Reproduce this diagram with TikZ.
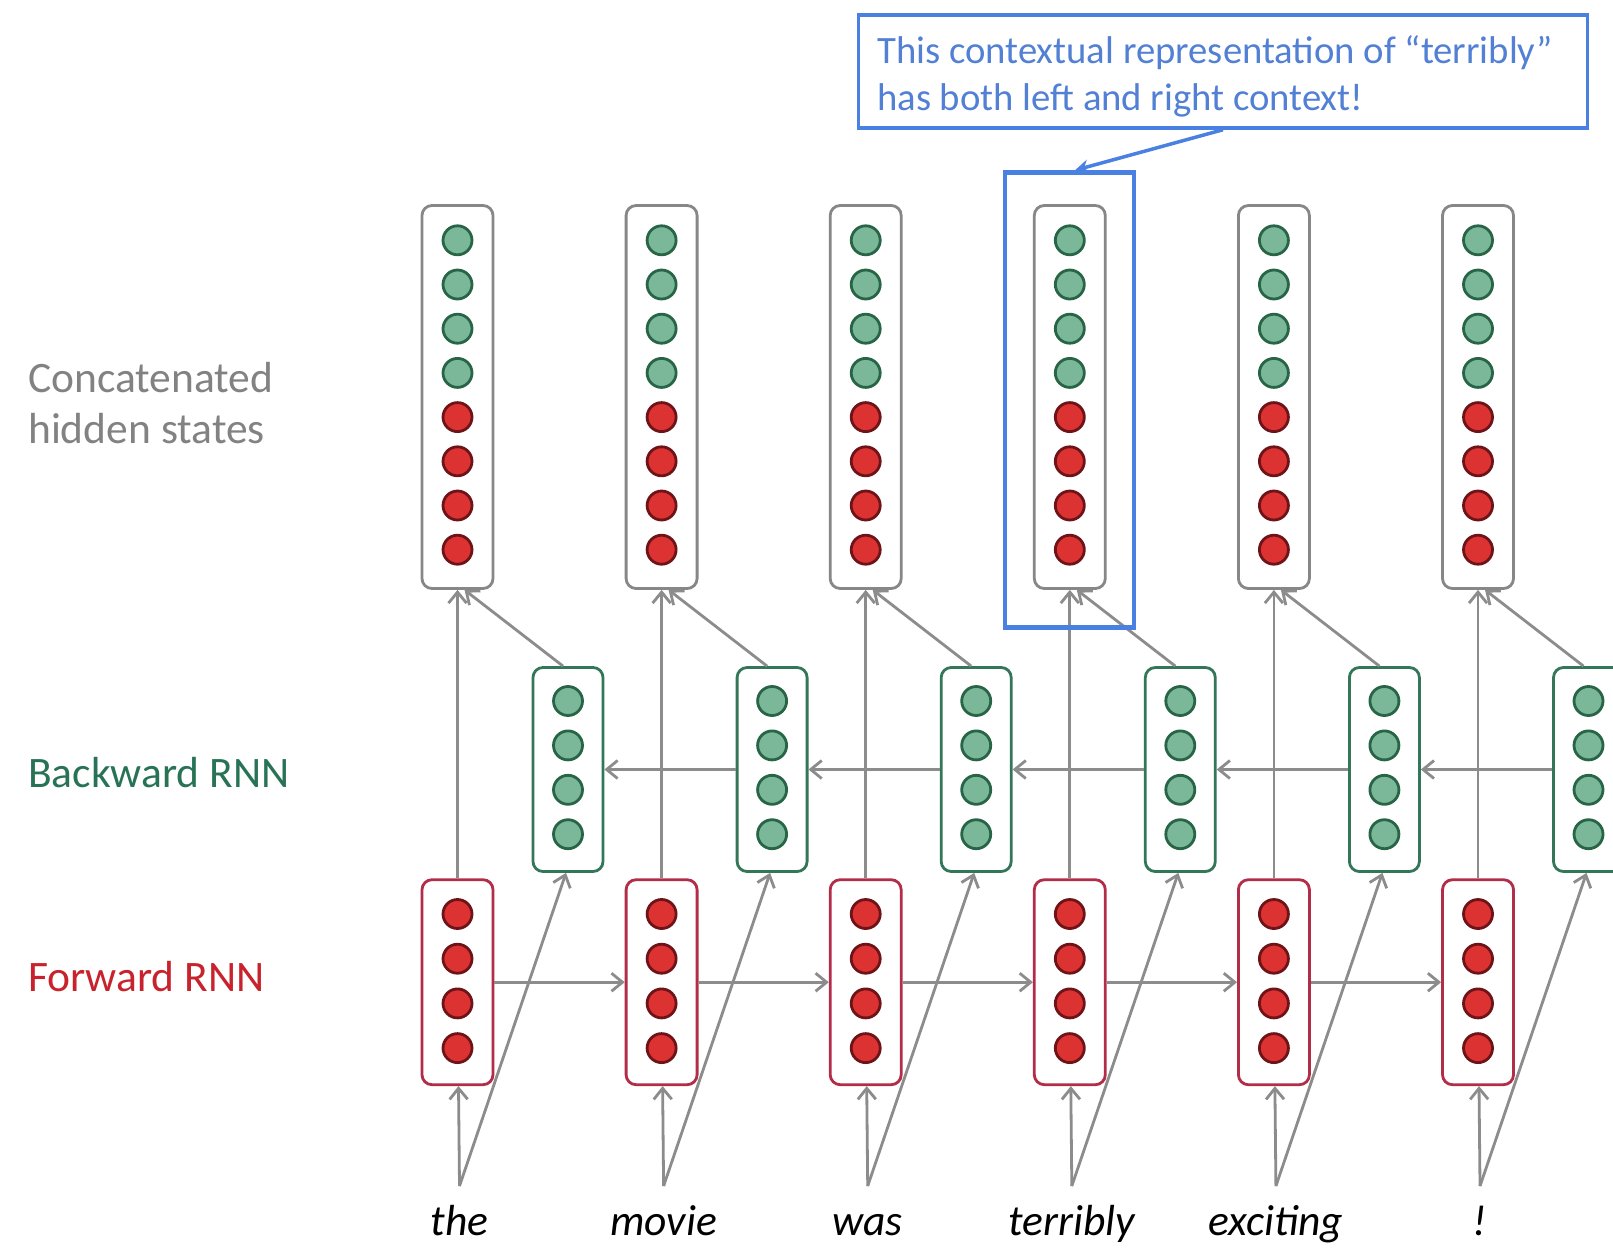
\documentclass[tikz,border=0pt]{standalone}
\usepackage{fontspec}
\setmainfont{Carlito}
\usetikzlibrary{arrows.meta}

\definecolor{linegray}{RGB}{140,140,140}
\definecolor{boxgray}{RGB}{135,135,135}
\definecolor{fwdborder}{RGB}{178,45,72}
\definecolor{bwdborder}{RGB}{52,118,88}
\definecolor{dotgreen}{RGB}{122,184,153}
\definecolor{dotgreenrim}{RGB}{40,100,70}
\definecolor{dotred}{RGB}{220,50,50}
\definecolor{dotredrim}{RGB}{110,20,25}
\definecolor{noteblue}{RGB}{74,128,226}
\definecolor{notetext}{RGB}{82,128,212}
\definecolor{labgray}{RGB}{130,130,130}
\definecolor{labgreen}{RGB}{40,115,85}
\definecolor{labred}{RGB}{200,35,45}

\tikzset{
  conn/.style={draw=linegray, line width=2.8pt,
    -{Straight Barb[length=11pt,width=18pt]}},
  concatbox/.style={rectangle, rounded corners=10pt, draw=boxgray, line width=2.8pt,
    fill=white, minimum width=71pt, minimum height=383pt, inner sep=0pt},
  fwdbox/.style={rectangle, rounded corners=10pt, draw=fwdborder, line width=2.8pt,
    fill=white, minimum width=71pt, minimum height=205pt, inner sep=0pt},
  bwdbox/.style={rectangle, rounded corners=10pt, draw=bwdborder, line width=2.8pt,
    fill=white, minimum width=70pt, minimum height=204pt, inner sep=0pt},
  gdot/.style={circle, fill=dotgreen, draw=dotgreenrim, line width=2.8pt,
    minimum size=29pt, inner sep=0pt},
  rdot/.style={circle, fill=dotred, draw=dotredrim, line width=2.8pt,
    minimum size=29pt, inner sep=0pt},
  sidelabel/.style={anchor=base west, inner sep=0pt,
    font=\fontsize{43.5}{52}\selectfont},
  wordlabel/.style={anchor=base, inner sep=0pt,
    font=\fontsize{43.5}{52}\selectfont\itshape},
  notetextstyle/.style={anchor=base west, inner sep=0pt, text=notetext,
    font=\fontsize{38.7}{46.7}\selectfont},
  bluebox/.style={rectangle, draw=noteblue, inner sep=0pt},
}

\begin{document}
\begin{tikzpicture}[x=1pt,y=-1pt]
\useasboundingbox (0,0) rectangle (1613,1248);
\fill[white] (0,0) rectangle (1613,1248);
\clip (0,0) rectangle (1613,1248);

% layer labels on the left
\node[sidelabel, text=labgray] (lab-concat1) at (28,392) {Concatenated};
\node[sidelabel, text=labgray] (lab-concat2) at (28,443.5) {hidden states};
\node[sidelabel, text=labgreen] (lab-bwd) at (28,787) {Backward RNN};
\node[sidelabel, text=labred] (lab-fwd) at (28,991) {Forward RNN};

% one column per time step: concatenated state, forward and backward cells
\foreach \w [count=\n from 0] in {the,movie,was,terribly,exciting,!} {
  \pgfmathsetmacro{\xc}{457.5+204.1*\n}
  \pgfmathsetmacro{\xb}{\xc+110.5}
  \pgfmathsetmacro{\xw}{\xc+2}
  \node[concatbox] (h\n) at (\xc,397) {};
  \node[fwdbox] (f\n) at (\xc,982.2) {};
  \node[bwdbox] (b\n) at (\xb,769.5) {};
  \foreach \k in {0,...,7} {
    \pgfmathsetmacro{\yy}{240.3+44.2*\k}
    \ifnum\k<4
      \node[gdot] (h\n-\k) at (\xc,\yy) {};
    \else
      \node[rdot] (h\n-\k) at (\xc,\yy) {};
    \fi
  }
  \foreach \k in {0,...,3} {
    \pgfmathsetmacro{\yf}{914+44.7*\k}
    \pgfmathsetmacro{\yb}{701+44.4*\k}
    \node[rdot] (f\n-\k) at (\xc,\yf) {};
    \node[gdot] (b\n-\k) at (\xb,\yb) {};
  }
  \coordinate (w\n) at (\xw,1186);
  \node[wordlabel] (word\n) at (\xw,1235) {\w};
}

% recurrences
\foreach \n [evaluate=\n as \m using int(\n+1)] in {0,...,4} {
  \draw[conn] (f\n.east) -- (f\m.west);
  \draw[conn] (b\m.west) -- (b\n.east);
}

% inputs and concatenation
\foreach \n in {0,...,5} {
  \draw[conn] (w\n) -- ([xshift=1pt]f\n.south);
  \draw[conn] (w\n) -- ([xshift=-2pt]b\n.south);
  \draw[conn] (f\n.north) -- (h\n.south);
  \draw[conn] ([xshift=-5pt]b\n.north) -- ([xshift=7pt]h\n.south);
}

% highlight of the state for "terribly" and its note
\node[bluebox, line width=4.5pt, minimum width=129pt, minimum height=455pt]
  (focus) at (1069.5,400) {};
\node[bluebox, line width=3.5pt, minimum width=728.8pt, minimum height=113pt]
  (note) at (1222.9,71.5) {};
\node[notetextstyle] (note-l1) at (877,63.3)
  {This contextual representation of “terribly”};
\node[notetextstyle] (note-l2) at (877,110)
  {has both left and right context!};
\draw[draw=noteblue, line width=3.5pt, -{Stealth[length=14pt,width=14pt]}]
  (note.south) -- ([xshift=5.5pt]focus.north);
\end{tikzpicture}
\end{document}
